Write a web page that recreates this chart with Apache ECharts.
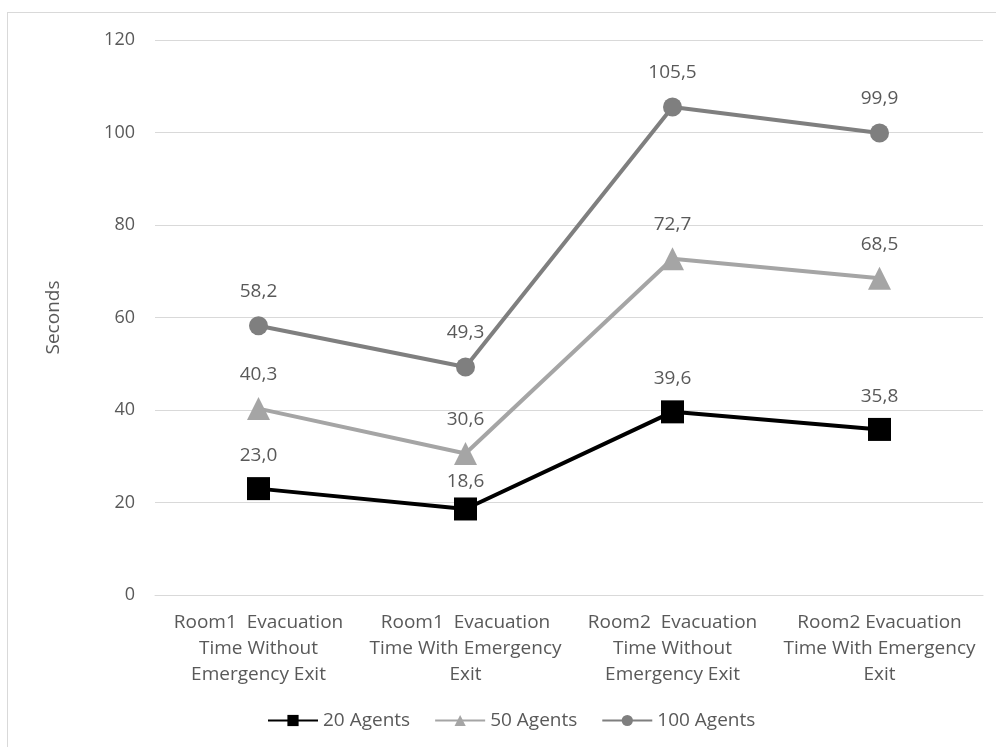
<!DOCTYPE html>
<html><head><meta charset="utf-8">
<script src="https://cdn.jsdelivr.net/npm/echarts@6/dist/echarts.min.js"></script>
<style>html,body{margin:0;padding:0;background:#fff}#c{width:996px;height:747px}
#frame{position:absolute;left:7px;top:12px;width:1000px;height:800px;border-left:1px solid #d9d9d9;border-top:1px solid #d9d9d9;pointer-events:none}</style>
</head><body><div id="c"></div><div id="frame"></div>
<script>
const categories = [
  'Room1  Evacuation\nTime Without\nEmergency Exit',
  'Room1  Evacuation\nTime With Emergency\nExit',
  'Room2  Evacuation\nTime Without\nEmergency Exit',
  'Room2 Evacuation\nTime With Emergency\nExit'
];
const agents20 = [23.0, 18.6, 39.6, 35.8];
const agents50 = [40.3, 30.6, 72.7, 68.5];
const agents100 = [58.2, 49.3, 105.5, 99.9];
const yTicks = [0, 20, 40, 60, 80, 100, 120];

const FONT = '"Open Sans", sans-serif';
const TXT = '#595959';
const fmt = p => p.value.toFixed(1).replace('.', ',');
function mk(name, data, color, symbol, size, dist, tweak) {
  return {
    name, type: 'line', symbol, symbolSize: size,
    data: data.map((v, i) => (tweak && tweak[i] != null) ? { value: v, label: { distance: tweak[i] } } : v),
    lineStyle: { color, width: 4 }, itemStyle: { color },
    label: { show: true, position: 'top', distance: dist, formatter: fmt,
      color: TXT, fontSize: 19, fontFamily: FONT },
    z: 3
  };
}
const chart = echarts.init(document.getElementById('c'));
chart.setOption({
  animation: false,
  backgroundColor: '#fff',
  grid: { left: 155, right: 13, top: 40, bottom: 152, containLabel: false },
  legend: {
    bottom: 12, left: 262, itemWidth: 50, itemHeight: 14, itemGap: 24,
    textStyle: { color: TXT, fontSize: 19, fontFamily: FONT },
    data: ['20 Agents', '50 Agents', '100 Agents']
  },
  xAxis: {
    type: 'category', data: categories, boundaryGap: true,
    axisLine: { lineStyle: { color: '#d9d9d9', width: 1 } },
    axisTick: { show: false },
    axisLabel: { color: TXT, fontSize: 19, fontFamily: FONT, lineHeight: 26, margin: 15, interval: 0 }
  },
  yAxis: {
    type: 'value', min: yTicks[0], max: yTicks[yTicks.length - 1], interval: 20,
    name: 'Seconds', nameLocation: 'middle', nameGap: 92, nameRotate: 90,
    nameTextStyle: { color: TXT, fontSize: 19, fontFamily: FONT },
    axisLine: { show: false }, axisTick: { show: false },
    axisLabel: { color: TXT, fontSize: 18, fontFamily: FONT, margin: 20 },
    splitLine: { lineStyle: { color: '#d9d9d9', width: 1 } }
  },
  series: [
    mk('20 Agents', agents20, '#000000', 'rect', 23, 12, [null, 6, null, null]),
    mk('50 Agents', agents50, '#a5a5a5', 'triangle', 23, 13),
    mk('100 Agents', agents100, '#7f7f7f', 'circle', 19, 15)
  ]
});
</script></body></html>
